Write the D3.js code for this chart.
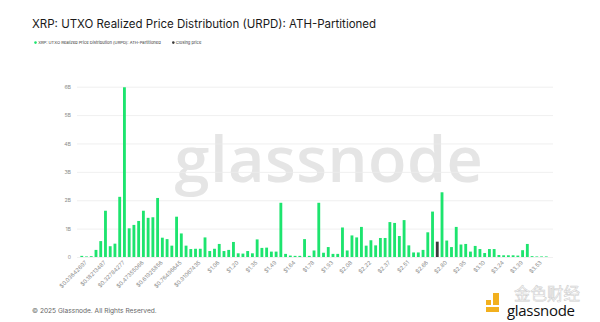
<!DOCTYPE html>
<html>
<head>
<meta charset="utf-8">
<script src="https://cdn.jsdelivr.net/npm/d3@7"></script>
<style>
  html, body { margin: 0; padding: 0; background: #ffffff; }
  svg { display: block; }
</style>
</head>
<body>
<svg id="chart" width="600" height="322"></svg>
<script>
// ---- data ----
const binWidth = 0.03642697; // ATH / 100 partitions
const binCount = 100;
const categories = d3.range(1, binCount + 1).map(i => i * binWidth); // bin price levels
// supply per bin, in billions of XRP
const urpdValues = [
  0.04, 0.02, 0.03, 0.25, 0.56, 1.63, 0.38, 0.47, 2.12, 5.98,
  1.01, 1.13, 1.27, 1.63, 1.38, 1.40, 2.08, 0.68, 0.63, 0.40,
  1.42, 0.83, 0.40, 0.28, 0.29, 0.29, 0.69, 0.21, 0.29, 0.46,
  0.21, 0.25, 0.53, 0.13, 0.12, 0.21, 0.13, 0.62, 0.32, 0.33,
  0.19, 0.19, 1.91, 0.11, 0.05, 0.04, 0.04, 0.63, 0.04, 0.23,
  1.91, 0.15, 0.35, 0.11, 0.11, 1.04, 0.23, 0.76, 0.69, 1.06,
  0.40, 0.59, 0.41, 0.67, 0.67, 1.23, 1.20, 0.74, 1.30, 0.41,
  0.16, 0.16, 0.25, 0.87, 1.60, 0.54, 2.28, 0.58, 0.35, 1.06,
  0.44, 0.46, 0.19, 0.39, 0.28, 0.14, 0.28, 0.28, 0.07, 0.06,
  0.06, 0.06, 0.05, 0.24, 0.46, 0.03, 0.02, 0.02, 0.02, 0.00
];
const closingPriceBin = [75]; // bin containing the closing price
const xTickLabels = [
  "$0.03642697", "$0.18213487", "$0.32784277", "$0.47355066", "$0.61925856",
  "$0.76496645", "$0.91067435", "$1.06", "$1.20", "$1.35", "$1.49", "$1.64",
  "$1.78", "$1.93", "$2.08", "$2.22", "$2.37", "$2.51", "$2.66", "$2.80",
  "$2.95", "$3.10", "$3.24", "$3.39", "$3.53"
];
const yTickValues = [0, 1, 2, 3, 4, 5, 6];
const yTickLabels = ["0", "1B", "2B", "3B", "4B", "5B", "6B"];
const seriesNames = ["XRP: UTXO Realized Price Distribution (URPD): ATH-Partitioned", "Closing price"];

// ---- style ----
const green = "#1de46e";
const dark = "#3b3b3b";
const font = "Inter, 'Open Sans', sans-serif";

const svg = d3.select("#chart");
const plot = { left: 77, right: 553, top: 86.7, bottom: 257 };

const x = d3.scaleBand()
  .domain(d3.range(binCount))
  .range([79.4, 553.4])
  .paddingInner(0.4)
  .paddingOuter(0.2);

const y = d3.scaleLinear().domain([0, 6]).range([plot.bottom, plot.top]);

// title
svg.append("text")
  .attr("x", 32).attr("y", 28)
  .attr("font-family", font).attr("font-size", 11.5)
  .attr("fill", "#1a1a1a")
  .text("XRP: UTXO Realized Price Distribution (URPD): ATH-Partitioned");

// legend
const legend = svg.append("g").attr("font-family", font).attr("font-size", 4.1).attr("fill", "#333");
legend.append("circle").attr("cx", 35.5).attr("cy", 42.6).attr("r", 1.3).attr("fill", green);
legend.append("text").attr("x", 38.2).attr("y", 44).text(seriesNames[0]);
legend.append("circle").attr("cx", 173.3).attr("cy", 42.6).attr("r", 1.3).attr("fill", dark);
legend.append("text").attr("x", 175.8).attr("y", 44).text(seriesNames[1]);

// watermark
svg.append("text")
  .attr("x", 329).attr("y", 182)
  .attr("text-anchor", "middle")
  .attr("font-family", "'Open Sans', Inter, sans-serif")
  .attr("font-size", 63)
  .attr("font-weight", 600)
  .attr("letter-spacing", 0.5)
  .attr("fill", "#e5e5e5")
  .text("glassnode");

// y gridlines + labels
const yAxis = d3.axisLeft(y)
  .tickValues(yTickValues)
  .tickFormat((d, i) => yTickLabels[i])
  .tickSize(-(plot.right - plot.left))
  .tickPadding(6);
const gy = svg.append("g").attr("transform", `translate(${plot.left},0)`).call(yAxis);
gy.select(".domain").remove();
gy.selectAll("line").attr("stroke", "#ececec").attr("stroke-width", 0.8);
gy.selectAll("text").attr("font-family", font).attr("font-size", 5.2).attr("fill", "#8c8c8c");

// bars
svg.append("g").selectAll("rect")
  .data(urpdValues)
  .join("rect")
  .attr("x", (d, i) => x(i))
  .attr("width", x.bandwidth())
  .attr("y", d => y(d))
  .attr("height", d => y(0) - y(d))
  .attr("fill", (d, i) => closingPriceBin.includes(i) ? dark : green);

// x axis labels
const tickIdx = xTickLabels.map((_, k) => k * 4);
const xAxis = d3.axisBottom(x)
  .tickValues(tickIdx)
  .tickFormat((d, k) => xTickLabels[k])
  .tickSize(0)
  .tickPadding(0);
const gx = svg.append("g").attr("transform", `translate(0,${plot.bottom})`).call(xAxis);
gx.select(".domain").remove();
gx.selectAll("text")
  .attr("font-family", font).attr("font-size", 5.6).attr("fill", "#8c8c8c")
  .attr("text-anchor", "end")
  .attr("dy", 0)
  .attr("transform", "translate(5.5,6) rotate(-45)");

// footer
svg.append("text")
  .attr("x", 32).attr("y", 313)
  .attr("font-family", font).attr("font-size", 6.6).attr("fill", "#666")
  .text("© 2025 Glassnode. All Rights Reserved.");

// bottom-right logo
const logo = svg.append("g");
logo.append("rect").attr("x", 493).attr("y", 293).attr("width", 6).attr("height", 12).attr("fill", "#f2b01e");
logo.append("rect").attr("x", 486).attr("y", 300).attr("width", 5).attr("height", 5).attr("fill", "#f2b01e");
logo.append("rect").attr("x", 486).attr("y", 307).attr("width", 13).attr("height", 5).attr("fill", "#f2b01e");
logo.append("text").attr("x", 514).attr("y", 300)
  .attr("font-family", "'Noto Sans CJK SC', sans-serif").attr("font-size", 16.5)
  .attr("fill", "#ffffff").attr("stroke", "#cfcfcf").attr("stroke-width", 0.6)
  .text("金色财经");
logo.append("text").attr("x", 507).attr("y", 316)
  .attr("font-family", "'Open Sans', sans-serif").attr("font-size", 15).attr("letter-spacing", -0.3)
  .attr("fill", "#111")
  .text("glassnode");
</script>
</body>
</html>
